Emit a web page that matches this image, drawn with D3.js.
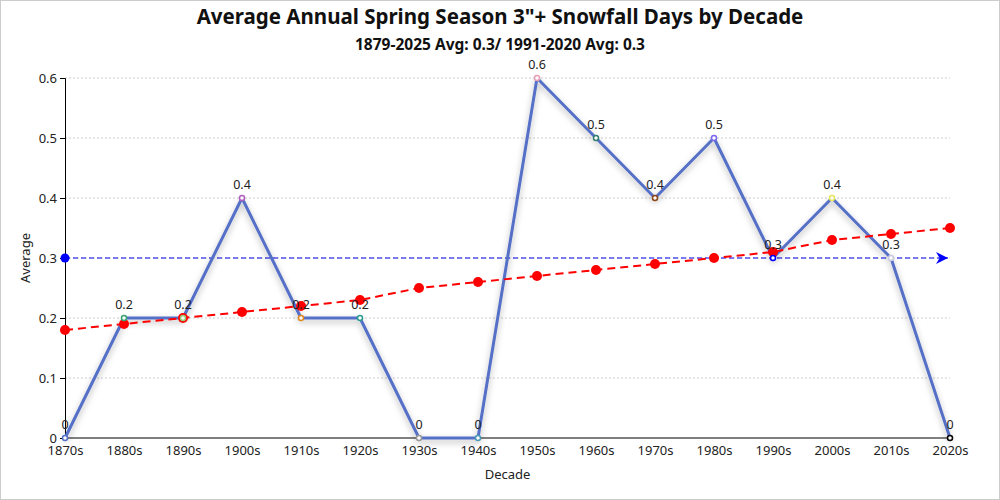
<!DOCTYPE html>
<html>
<head>
<meta charset="utf-8">
<script src="https://cdn.jsdelivr.net/npm/d3@7"></script>
<style>
  body { margin: 0; background: #fff; font-family: "Noto Sans", "Open Sans", sans-serif; }
  svg { display: block; }
</style>
</head>
<body>
<svg id="chart" width="1000" height="500"></svg>
<script>
// data
const decades = ['1870s','1880s','1890s','1900s','1910s','1920s','1930s','1940s',
                 '1950s','1960s','1970s','1980s','1990s','2000s','2010s','2020s'];
const averages = [0, 0.2, 0.2, 0.4, 0.2, 0.2, 0, 0, 0.6, 0.5, 0.4, 0.5, 0.3, 0.4, 0.3, 0];
const trend = [0.18, 0.19, 0.20, 0.21, 0.22, 0.23, 0.25, 0.26, 0.27, 0.28, 0.29, 0.30, 0.31, 0.33, 0.34, 0.35];
const normal = 0.3;
const yTicks = [0, 0.1, 0.2, 0.3, 0.4, 0.5, 0.6];
const markerColors = ['#5470c6','#3ba272','#91cc75','#b25fc0','#e08a1e','#2a9d8f','#999999','#4a9ab5',
                      '#e8a0b4','#2f7d6d','#8b4513','#7b68ee','#0000ff','#e6e65c','#c8c8e0','#000000'];

const svg = d3.select('#chart');
const margin = {left: 65, right: 50, top: 78, bottom: 62};
const W = 1000, H = 500;

svg.append('rect')
    .attr('x', 0.5).attr('y', 0.5)
    .attr('width', W - 1).attr('height', H - 1)
    .attr('fill', '#fff').attr('stroke', '#ccc');

const x = d3.scalePoint().domain(decades).range([margin.left, W - margin.right]);
const y = d3.scaleLinear().domain([0, 0.6]).range([H - margin.bottom, margin.top]);

const defs = svg.append('defs');
const shadow = defs.append('filter').attr('id', 'shadow')
    .attr('x', '-10%').attr('y', '-10%').attr('width', '120%').attr('height', '130%');
shadow.append('feDropShadow')
    .attr('dx', 0).attr('dy', 3).attr('stdDeviation', 3)
    .attr('flood-color', '#000').attr('flood-opacity', 0.3);
defs.append('marker').attr('id', 'arrow')
    .attr('viewBox', '0 0 10 10').attr('refX', 10).attr('refY', 5)
    .attr('markerWidth', 15).attr('markerHeight', 12)
    .attr('markerUnits', 'userSpaceOnUse').attr('orient', 'auto')
  .append('path').attr('d', 'M0,0 L10,5 L0,10 L3,5 Z').attr('fill', '#0000ff');

// titles
svg.append('text').attr('x', W / 2).attr('y', 24).attr('text-anchor', 'middle')
    .attr('font-size', 20.5).attr('font-weight', 'bold').attr('fill', '#111')
    .text('Average Annual Spring Season 3"+ Snowfall Days by Decade');
svg.append('text').attr('x', W / 2).attr('y', 50).attr('text-anchor', 'middle')
    .attr('font-size', 15.5).attr('font-weight', 'bold').attr('fill', '#111')
    .text('1879-2025 Avg: 0.3/ 1991-2020 Avg: 0.3');

// gridlines
svg.append('g').selectAll('line').data(yTicks.slice(1)).join('line')
    .attr('x1', margin.left).attr('x2', W - margin.right)
    .attr('y1', d => y(d)).attr('y2', d => y(d))
    .attr('stroke', '#ccc').attr('stroke-dasharray', '2,2');

// axes
const yAxis = svg.append('g').attr('transform', `translate(${margin.left},0)`)
    .call(d3.axisLeft(y).tickValues(yTicks).tickSize(5).tickPadding(3).tickFormat(d => d3.format('~g')(d)));
yAxis.selectAll('text').attr('font-size', 13).attr('fill', '#222').attr('font-family', 'Noto Sans, sans-serif');

const xAxis = svg.append('g').attr('transform', `translate(0,${y(0)})`)
    .call(d3.axisBottom(x).tickSize(0).tickPadding(8));
xAxis.selectAll('text').attr('font-size', 13).attr('fill', '#222').attr('font-family', 'Noto Sans, sans-serif');
xAxis.select('.domain').attr('d', `M${margin.left},0H${W - margin.right}`);

svg.append('text').attr('transform', `translate(30,${(y(0) + y(0.6)) / 2}) rotate(-90)`)
    .attr('text-anchor', 'middle').attr('font-size', 13).attr('fill', '#222').text('Average');
svg.append('text').attr('x', (margin.left + W - margin.right) / 2).attr('y', 479)
    .attr('text-anchor', 'middle').attr('font-size', 13).attr('fill', '#222').text('Decade');

// 1991-2020 normal line
svg.append('line')
    .attr('x1', margin.left).attr('x2', W - margin.right - 2)
    .attr('y1', y(normal)).attr('y2', y(normal))
    .attr('stroke', '#0000ff').attr('stroke-width', 1).attr('stroke-dasharray', '5,3')
    .attr('marker-end', 'url(#arrow)');
svg.append('circle').attr('cx', margin.left).attr('cy', y(normal)).attr('r', 4.5).attr('fill', '#0000ff');

// main series
const line = d3.line().x((d, i) => x(decades[i])).y(d => y(d));
svg.append('path').datum(averages)
    .attr('d', line).attr('fill', 'none')
    .attr('stroke', '#5470c6').attr('stroke-width', 3).attr('stroke-linejoin', 'round')
    .attr('filter', 'url(#shadow)');

// trend line
svg.append('path').datum(trend)
    .attr('d', line).attr('fill', 'none')
    .attr('stroke', '#ff0000').attr('stroke-width', 2).attr('stroke-dasharray', '8,5');
svg.append('g').selectAll('circle').data(trend).join('circle')
    .attr('cx', (d, i) => x(decades[i])).attr('cy', d => y(d)).attr('r', 5).attr('fill', '#ff0000');

// markers and labels
svg.append('g').selectAll('circle').data(averages).join('circle')
    .attr('cx', (d, i) => x(decades[i])).attr('cy', d => y(d)).attr('r', 2.5)
    .attr('fill', '#fff').attr('stroke', (d, i) => markerColors[i]).attr('stroke-width', 1.5);
svg.append('g').selectAll('text').data(averages).join('text')
    .attr('x', (d, i) => x(decades[i])).attr('y', d => y(d) - 9)
    .attr('text-anchor', 'middle').attr('font-size', 12.5).attr('fill', '#222')
    .text(d => d3.format('~g')(d));
</script>
</body>
</html>
